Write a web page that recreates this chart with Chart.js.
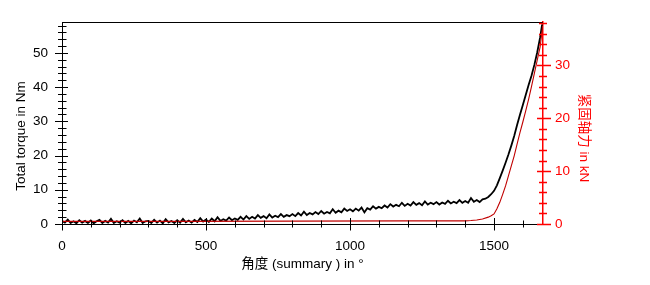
<!DOCTYPE html>
<html>
<head>
<meta charset="utf-8">
<script src="https://cdn.jsdelivr.net/npm/chart.js"></script>
<style>
  html, body { margin: 0; padding: 0; background: #fff; }
  canvas { display: block; }
</style>
</head>
<body>
<canvas id="torqueChart" width="650" height="285"></canvas>
<script>
// Torque / clamp force vs. angle

const torqueAngles = [
  0, 10, 20, 30, 40, 50, 60, 70, 80, 90,
  100, 110, 120, 130, 140, 150, 160, 170, 180, 190,
  200, 210, 220, 230, 240, 250, 260, 270, 280, 290,
  300, 310, 320, 330, 340, 350, 360, 370, 380, 390,
  400, 410, 420, 430, 440, 450, 460, 470, 480, 490,
  500, 510, 520, 530, 540, 550, 560, 570, 580, 590,
  600, 610, 620, 630, 640, 650, 660, 670, 680, 690,
  700, 710, 720, 730, 740, 750, 760, 770, 780, 790,
  800, 810, 820, 830, 840, 850, 860, 870, 880, 890,
  900, 910, 920, 930, 940, 950, 960, 970, 980, 990,
  1000, 1010, 1020, 1030, 1040, 1050, 1060, 1070, 1080, 1090,
  1100, 1110, 1120, 1130, 1140, 1150, 1160, 1170, 1180, 1190,
  1200, 1210, 1220, 1230, 1240, 1250, 1260, 1270, 1280, 1290,
  1300, 1310, 1320, 1330, 1340, 1350, 1360, 1370, 1380, 1390,
  1400, 1410, 1420, 1430, 1440, 1450, 1460, 1470, 1480, 1490,
  1500, 1510, 1520, 1530, 1540, 1550, 1560, 1570, 1580, 1590,
  1600, 1610, 1620, 1630, 1640, 1650, 1660, 1667
];
const torqueValues = [
  0.9, 0.4, 1.3, 0.3, 0.8, 0.2, 1.1, 0.4, 0.9, 0.3,
  1.0, 0.2, 0.8, 1.2, 0.3, 0.9, 0.4, 1.5, 0.3, 0.8,
  0.4, 1.1, 0.3, 0.9, 0.2, 1.0, 0.5, 1.6, 0.3, 0.8,
  0.9, 0.3, 1.2, 0.4, 1.0, 0.2, 1.4, 0.5, 0.9, 0.3,
  1.1, 0.4, 1.5, 0.5, 1.0, 0.4, 1.2, 0.6, 1.7, 0.7,
  1.3, 0.6, 1.6, 0.8, 2.0, 0.9, 1.4, 1.0, 1.9, 1.1,
  1.6, 1.2, 2.1, 1.3, 2.3, 1.5, 2.1, 1.6, 2.6, 1.8,
  2.3, 1.7, 2.8, 1.9, 2.4, 2.0, 2.9, 2.1, 2.6, 2.3,
  2.9, 2.3, 3.2, 2.5, 3.6, 2.6, 3.2, 2.8, 3.5, 2.9,
  3.8, 3.0, 3.5, 3.1, 4.3, 3.3, 3.9, 3.4, 4.5, 3.8,
  4.3, 3.7, 4.5, 3.9, 4.8, 3.4, 4.6, 4.2, 5.2, 4.5,
  5.0, 4.6, 5.4, 4.8, 5.8, 5.1, 5.6, 5.2, 6.2, 5.3,
  5.9, 5.4, 6.4, 5.6, 6.1, 5.5, 6.6, 5.7, 6.2, 5.8,
  6.4, 5.7, 6.3, 5.9, 6.8, 6.0, 6.5, 6.1, 7.0, 6.2,
  6.7, 6.2, 7.6, 6.5, 7.0, 6.4, 7.2, 7.4, 7.9, 8.7,
  9.7, 11.3, 13.4, 15.6, 17.9, 20.3, 22.9, 25.7, 28.9, 31.9,
  34.8, 37.7, 40.6, 43.3, 46.5, 50.2, 54.5, 58.3
];

const forceAngles = [0, 400, 800, 1200, 1400, 1420, 1440, 1460, 1480, 1490,
  1500, 1510, 1520, 1530, 1540, 1550, 1560, 1570, 1580, 1590,
  1600, 1610, 1620, 1630, 1640, 1650, 1660, 1669];
const forceValues = [0.5, 0.5, 0.55, 0.6, 0.6, 0.65, 0.75, 0.95, 1.3, 1.55,
  1.9, 2.9, 4.1, 5.6, 7.2, 9.1, 11.0, 12.9, 15.1, 17.3,
  19.3, 21.4, 23.6, 26.0, 28.5, 31.0, 33.5, 37.5];

const xTickLabels = [0, 500, 1000, 1500];
const torqueTickLabels = [0, 10, 20, 30, 40, 50];
const forceTickLabels = [0, 10, 20, 30];

const FONT = '"Liberation Sans", Arial, "Noto Sans CJK SC", sans-serif';

// tick marks crossing the axis lines, plus titles and top frame line
const axisDecor = {
  id: 'axisDecor',
  afterDraw(chart) {
    const ctx = chart.ctx;
    const { left, right, top, bottom } = chart.chartArea;
    const sx = chart.scales.x, sy = chart.scales.y, sy1 = chart.scales.y1;
    ctx.save();
    ctx.lineWidth = 1;
    ctx.strokeStyle = '#000';
    ctx.beginPath();
    ctx.moveTo(left, Math.round(top) + 0.5);
    ctx.lineTo(right, Math.round(top) + 0.5);
    ctx.stroke();

    ctx.beginPath();
    for (let v = 0; v <= 1600; v += 100) {
      const px = Math.round(sx.getPixelForValue(v)) + 0.5;
      const major = xTickLabels.includes(v);
      ctx.moveTo(px, bottom - (major ? 6 : 3.5));
      ctx.lineTo(px, bottom + (major ? 6.5 : 3.5));
    }
    for (let v = 0; v <= 58; v += 2) {
      const py = Math.round(sy.getPixelForValue(v)) + 0.5;
      const major = torqueTickLabels.includes(v);
      ctx.moveTo(left - (major ? 7 : 4), py);
      ctx.lineTo(left + (major ? 6 : 4.5), py);
    }
    ctx.stroke();

    ctx.strokeStyle = '#ff0000';
    ctx.lineWidth = 1.3;
    ctx.beginPath();
    for (let v = 0; v <= 38; v += 2) {
      const py = Math.round(sy1.getPixelForValue(v)) + 0.5;
      const major = forceTickLabels.includes(v);
      ctx.moveTo(right - (major ? 6 : 4), py);
      ctx.lineTo(right + (major ? 8 : 4), py);
    }
    ctx.stroke();

    ctx.font = '13.5px ' + FONT;
    ctx.textAlign = 'center';
    ctx.textBaseline = 'middle';
    ctx.fillStyle = '#000';
    ctx.fillText('角度 (summary ) in °', (left + right) / 2, 264);

    ctx.save();
    ctx.translate(21, 136);
    ctx.rotate(-Math.PI / 2);
    ctx.fillText('Total torque in Nm', 0, 0);
    ctx.restore();

    ctx.save();
    ctx.fillStyle = '#ff0000';
    ctx.translate(584, 138);
    ctx.rotate(Math.PI / 2);
    ctx.fillText('紧固轴力 in kN', 0, 0);
    ctx.restore();
    ctx.restore();
  }
};

new Chart(document.getElementById('torqueChart'), {
  type: 'line',
  data: {
    datasets: [
      {
        label: 'force',
        data: forceAngles.map((a, i) => ({ x: a, y: forceValues[i] })),
        yAxisID: 'y1',
        borderColor: '#c00000',
        borderWidth: 1.1,
        pointRadius: 0,
        tension: 0,
        order: 0
      },
      {
        label: 'torque',
        data: torqueAngles.map((a, i) => ({ x: a, y: torqueValues[i] })),
        yAxisID: 'y',
        borderColor: '#000',
        borderWidth: 1.8,
        pointRadius: 0,
        tension: 0,
        order: 1
      }
    ]
  },
  options: {
    responsive: false,
    animation: false,
    devicePixelRatio: 1,
    layout: { padding: { top: 20, left: 0, right: 0, bottom: 0 } },
    plugins: { legend: { display: false }, tooltip: { enabled: false } },
    scales: {
      x: {
        type: 'linear',
        min: 0,
        max: 1670,
        grid: { display: false, drawTicks: false },
        border: { display: true, color: '#000', width: 1 },
        ticks: {
          stepSize: 100,
          autoSkip: false,
          maxRotation: 0,
          padding: 14,
          color: '#000',
          font: { family: FONT, size: 13.5 },
          callback: v => (xTickLabels.includes(v) ? String(v) : '')
        },
        afterFit: s => { s.height = 61; }
      },
      y: {
        position: 'left',
        min: 0,
        max: 59,
        grid: { display: false, drawTicks: false },
        border: { display: true, color: '#000', width: 1 },
        ticks: {
          stepSize: 2,
          autoSkip: false,
          padding: 14,
          color: '#000',
          font: { family: FONT, size: 13.5 },
          callback: v => (torqueTickLabels.includes(v) ? String(v) : '')
        },
        afterFit: s => { s.width = 62; }
      },
      y1: {
        position: 'right',
        min: 0,
        max: 38.2,
        grid: { display: false, drawTicks: false },
        border: { display: true, color: '#ff0000', width: 1.5 },
        ticks: {
          stepSize: 2,
          autoSkip: false,
          padding: 12,
          color: '#ff0000',
          font: { family: FONT, size: 13.5 },
          callback: v => (forceTickLabels.includes(v) ? String(v) : '')
        },
        afterFit: s => { s.width = 107; }
      }
    }
  },
  plugins: [axisDecor]
});
</script>
</body>
</html>
